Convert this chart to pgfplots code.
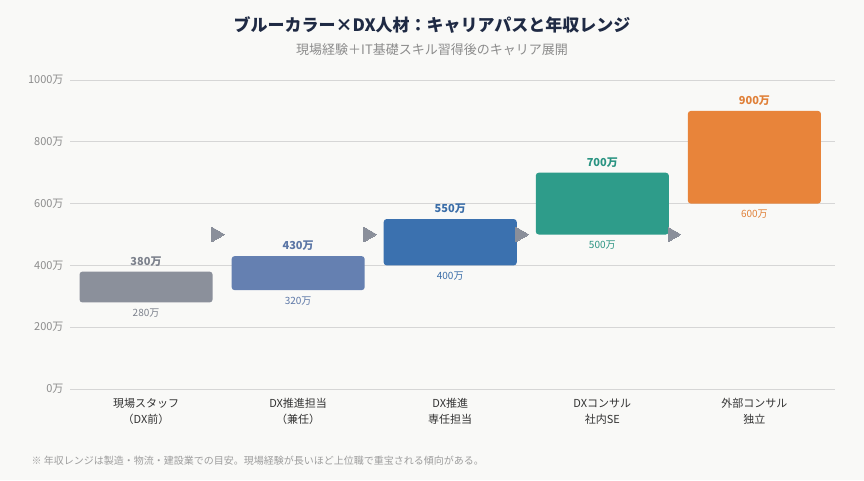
\documentclass[border=0pt]{standalone}
\usepackage{fontspec}
\setmainfont{Noto Sans CJK JP}
\usepackage{pgfplots}
\pgfplotsset{compat=1.18}

\definecolor{bgc}{HTML}{F9F9F7}
\definecolor{gridc}{HTML}{D6D6D6}
\definecolor{tickc}{HTML}{8C8C8C}
\definecolor{titlec}{HTML}{1F2A44}
\definecolor{catc}{HTML}{333333}
\definecolor{arrowc}{HTML}{8A8F9A}
% bar fills and label colours
\definecolor{c0}{HTML}{8B909B}\definecolor{l0}{HTML}{7C818C}
\definecolor{c1}{HTML}{6580B1}\definecolor{l1}{HTML}{5B76A6}
\definecolor{c2}{HTML}{3B71AF}\definecolor{l2}{HTML}{3A6DA8}
\definecolor{c3}{HTML}{2E9C8A}\definecolor{l3}{HTML}{2A9482}
\definecolor{c4}{HTML}{E8843A}\definecolor{l4}{HTML}{E08038}

\pgfplotsset{
  toplab/.style={draw=none, mark=none, nodes near coords, point meta=explicit symbolic,
    nodes near coords style={anchor=south, yshift=2pt, text=#1,
      font=\bfseries\fontsize{11}{13}\selectfont}},
  botlab/.style={draw=none, mark=none, nodes near coords, point meta=explicit symbolic,
    nodes near coords style={anchor=north, yshift=-3pt, text=#1,
      font=\fontsize{10}{12}\selectfont}},
}

\begin{document}
\begin{tikzpicture}
\fill[bgc] (0,0) rectangle (864pt,480pt);

\node[font=\bfseries\fontsize{17}{20}\selectfont, text=titlec] at (432pt,455pt)
  {ブルーカラー×DX人材：キャリアパスと年収レンジ};
\node[font=\fontsize{13}{15}\selectfont, text=tickc] at (432pt,430pt)
  {現場経験＋IT基礎スキル習得後のキャリア展開};

\begin{axis}[
  at={(70pt,91pt)}, anchor=south west,
  width=765pt, height=309pt, scale only axis,
  xmin=-0.5, xmax=4.53, ymin=0, ymax=1000,
  clip=false,
  axis line style={draw=none},
  major tick length=0pt,
  ymajorgrids, grid style={gridc, line width=0.8pt},
  ytick={0,200,400,600,800,1000},
  yticklabels={0万,200万,400万,600万,800万,1000万},
  yticklabel style={text=tickc, font=\fontsize{11}{13}\selectfont, xshift=-3pt},
  xtick={0,1,2,3,4},
  xticklabels={{現場スタッフ\\（DX前）},{DX推進担当\\（兼任）},{DX推進\\専任担当},{DXコンサル\\社内SE},{外部コンサル\\独立}},
  xticklabel style={align=center, text=catc, font=\fontsize{11}{16}\selectfont, yshift=-6pt},
]
% range bars
\addplot[fill=c0, draw=none, rounded corners=3pt] coordinates {(-0.4375,280) (0.4375,280) (0.4375,380) (-0.4375,380)} -- cycle;
\addplot[fill=c1, draw=none, rounded corners=3pt] coordinates {(0.5625,320) (1.4375,320) (1.4375,430) (0.5625,430)} -- cycle;
\addplot[fill=c2, draw=none, rounded corners=3pt] coordinates {(1.5625,400) (2.4375,400) (2.4375,550) (1.5625,550)} -- cycle;
\addplot[fill=c3, draw=none, rounded corners=3pt] coordinates {(2.5625,500) (3.4375,500) (3.4375,700) (2.5625,700)} -- cycle;
\addplot[fill=c4, draw=none, rounded corners=3pt] coordinates {(3.5625,600) (4.4375,600) (4.4375,900) (3.5625,900)} -- cycle;

% arrows between steps
\addplot[only marks, color=arrowc, mark=triangle*, mark size=8.5pt,
  mark options={rotate=-90, fill=arrowc, draw=arrowc, line width=0pt}]
  coordinates {(0.46,500) (1.46,500) (2.46,500) (3.46,500)};

% value labels
\addplot[toplab=l0] coordinates {(0,380) [380万]};
\addplot[toplab=l1] coordinates {(1,430) [430万]};
\addplot[toplab=l2] coordinates {(2,550) [550万]};
\addplot[toplab=l3] coordinates {(3,700) [700万]};
\addplot[toplab=l4] coordinates {(4,900) [900万]};
\addplot[botlab=l0] coordinates {(0,280) [280万]};
\addplot[botlab=l1] coordinates {(1,320) [320万]};
\addplot[botlab=l2] coordinates {(2,400) [400万]};
\addplot[botlab=l3] coordinates {(3,500) [500万]};
\addplot[botlab=l4] coordinates {(4,600) [600万]};
\end{axis}

\node[anchor=west, font=\fontsize{10}{12}\selectfont, text=tickc!85] at (28pt,19pt)
  {※ 年収レンジは製造・物流・建設業での目安。現場経験が長いほど上位職で重宝される傾向がある。};
\end{tikzpicture}
\end{document}
